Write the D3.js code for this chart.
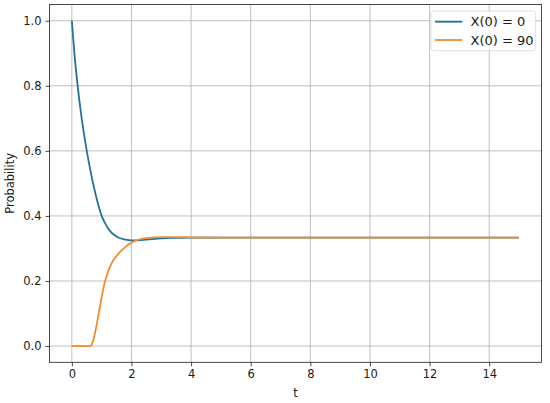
<!DOCTYPE html>
<html>
<head>
<meta charset="utf-8">
<script src="https://cdn.jsdelivr.net/npm/d3@7"></script>
<style>
  body { margin: 0; background: #fff; }
  text { font-family: "DejaVu Sans", sans-serif; }
</style>
</head>
<body>
<div id="chart"></div>
<script>
// time points
const tValues = [0, 0.05, 0.1, 0.2, 0.3, 0.4, 0.5, 0.6, 0.65, 0.7, 0.8, 0.9, 1.0, 1.1, 1.2, 1.3,
  1.4, 1.5, 1.6, 1.8, 2.0, 2.2, 2.5, 3.0, 3.5, 4.0, 5.0, 6.0, 8.0, 10.0, 12.0, 15.0];

// X(0) = 0
const probStart0 = [1.0, 0.94, 0.885, 0.795, 0.72, 0.656, 0.60, 0.55, 0.527, 0.505, 0.465, 0.43,
  0.40, 0.38, 0.364, 0.352, 0.343, 0.337, 0.332, 0.327, 0.325, 0.325, 0.327, 0.331, 0.3325,
  0.3333, 0.3333, 0.3333, 0.3333, 0.3333, 0.3333, 0.3333];

// X(0) = 90
const probStart90 = [0, 0, 0, 0, 0, 0, 0, 0, 0.002, 0.012, 0.05, 0.10, 0.15, 0.195, 0.225, 0.248,
  0.265, 0.277, 0.288, 0.305, 0.318, 0.326, 0.332, 0.335, 0.335, 0.334, 0.3335, 0.3333,
  0.3333, 0.3333, 0.3333, 0.3333];

const seriesNames = ['X(0) = 0', 'X(0) = 90'];
const xTicks = [0, 2, 4, 6, 8, 10, 12, 14];
const yTicks = [0.0, 0.2, 0.4, 0.6, 0.8, 1.0];

const colors = ['#26709a', '#f08c34'];

const margin = { top: 4.5, right: 8.6, bottom: 40.7, left: 49.5 };
const width = 550 - margin.left - margin.right;
const height = 403 - margin.top - margin.bottom;

const svg = d3
  .select('#chart')
  .append('svg')
  .attr('width', 550)
  .attr('height', 403)
  .append('g')
  .attr('transform', `translate(${margin.left},${margin.top})`);

const x = d3.scaleLinear().domain([-0.75, 15.75]).range([0, width]);
const y = d3.scaleLinear().domain([-0.05, 1.05]).range([height, 0]);

// grid
svg
  .append('g')
  .selectAll('line')
  .data(xTicks)
  .enter()
  .append('line')
  .attr('x1', (d) => x(d))
  .attr('x2', (d) => x(d))
  .attr('y1', 0)
  .attr('y2', height)
  .style('stroke', '#b0b0b0')
  .style('stroke-width', 0.8);

svg
  .append('g')
  .selectAll('line')
  .data(yTicks)
  .enter()
  .append('line')
  .attr('x1', 0)
  .attr('x2', width)
  .attr('y1', (d) => y(d))
  .attr('y2', (d) => y(d))
  .style('stroke', '#b0b0b0')
  .style('stroke-width', 0.8);

// axes
const xAxis = svg
  .append('g')
  .attr('transform', `translate(0,${height})`)
  .call(d3.axisBottom(x).tickValues(xTicks).tickSize(4).tickPadding(4).tickFormat(d3.format('d')));

const yAxis = svg
  .append('g')
  .call(d3.axisLeft(y).tickValues(yTicks).tickSize(4).tickPadding(4).tickFormat(d3.format('.1f')));

[xAxis, yAxis].forEach((a) => {
  a.select('.domain').remove();
  a.selectAll('line').style('stroke', '#1a1a1a').style('stroke-width', 0.8);
  a.selectAll('text').style('font-size', '11.5px').style('fill', '#1a1a1a')
    .style('font-family', '"DejaVu Sans", sans-serif');
});

// lines
const series = [probStart0, probStart90];
const line = d3
  .line()
  .x((d, i) => x(tValues[i]))
  .y((d) => y(d))
  .curve(d3.curveMonotoneX);

svg
  .selectAll('.series')
  .data(series)
  .enter()
  .append('path')
  .attr('class', 'series')
  .attr('d', line)
  .style('fill', 'none')
  .style('stroke', (d, i) => colors[i])
  .style('stroke-width', 1.8);

// frame
svg
  .append('rect')
  .attr('width', width)
  .attr('height', height)
  .style('fill', 'none')
  .style('stroke', '#1a1a1a')
  .style('stroke-width', 0.8);

// axis labels
svg
  .append('text')
  .attr('x', width / 2)
  .attr('y', height + 35)
  .attr('text-anchor', 'middle')
  .style('font-size', '11.5px')
  .style('fill', '#1a1a1a')
  .text('t');

svg
  .append('text')
  .attr('transform', `translate(${-margin.left + 13.5},${height / 2}) rotate(-90)`)
  .attr('text-anchor', 'middle')
  .style('font-size', '11.5px')
  .style('fill', '#1a1a1a')
  .text('Probability');

// legend
const legend = svg.append('g').attr('transform', `translate(${width - 110.4},6.5)`);

legend
  .append('rect')
  .attr('width', 104.7)
  .attr('height', 39.7)
  .attr('rx', 3)
  .style('fill', 'rgba(255,255,255,0.8)')
  .style('stroke', '#d6d6d6')
  .style('stroke-width', 0.8);

const items = legend
  .selectAll('.item')
  .data(seriesNames)
  .enter()
  .append('g')
  .attr('class', 'item')
  .attr('transform', (d, i) => `translate(0,${10.7 + i * 18.3})`);

items
  .append('line')
  .attr('x1', 4)
  .attr('x2', 31.3)
  .style('stroke', (d, i) => colors[i])
  .style('stroke-width', 1.8);

items
  .append('text')
  .attr('x', 39.5)
  .attr('dy', '0.36em')
  .style('font-size', '13px')
  .style('fill', '#1a1a1a')
  .text((d) => d);
</script>
</body>
</html>
